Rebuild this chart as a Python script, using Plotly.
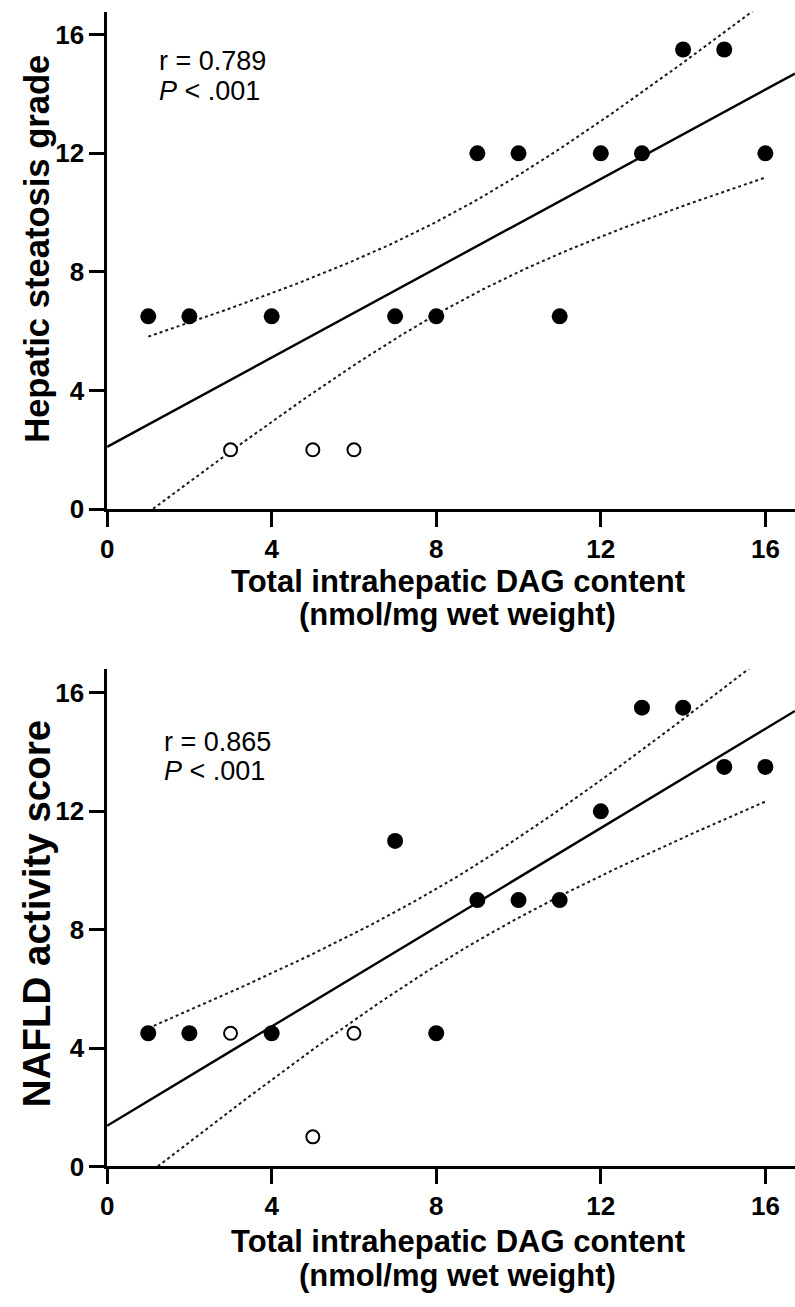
import numpy as np
import plotly.graph_objects as go

# ---------------- data ----------------
dag = [1, 2, 3, 4, 5, 6, 7, 8, 9, 10, 11, 12, 13, 14, 15, 16]
steatosis = [6.5, 6.5, 2, 6.5, 2, 2, 6.5, 6.5, 12, 12, 6.5, 12, 12, 15.5, 15.5, 12]
nas = [4.5, 4.5, 4.5, 4.5, 1, 4.5, 11, 4.5, 9, 9, 9, 12, 15.5, 15.5, 13.5, 13.5]
open_group = [False, False, True, False, True, True, False, False,
              False, False, False, False, False, False, False, False]
tick_vals = [0, 4, 8, 12, 16]
tick_text = ["0", "4", "8", "12", "16"]
r_labels = ["r = 0.789", "r = 0.865"]
p_label = "<i>P</i> < .001"
x_title_1 = "Total intrahepatic DAG content"
x_title_2 = "(nmol/mg wet weight)"
y_titles = ["Hepatic steatosis grade", "NAFLD activity score"]

T_CRIT = 2.1448  # t(0.975, df=14)

W, H = 795, 1307
FONT = "Liberation Sans, Arial, Helvetica, sans-serif"

X_MAX = 16.72
Y_MAX = [16.77, 16.8]


def px_x(p):
    return p / W


def px_y(p):
    return 1 - p / H


fig = go.Figure()


def add_panel(y, row):
    x = np.array(dag, dtype=float)
    yv = np.array(y, dtype=float)
    n = len(x)
    slope, intercept = np.polyfit(x, yv, 1)
    resid = yv - (slope * x + intercept)
    s = np.sqrt(np.sum(resid ** 2) / (n - 2))
    sxx = np.sum((x - x.mean()) ** 2)
    xs_fit = np.linspace(0, X_MAX, 50)
    xs_ci = np.linspace(x.min(), x.max(), 200)
    yhat = slope * xs_ci + intercept
    se = s * np.sqrt(1.0 / n + (xs_ci - x.mean()) ** 2 / sxx)
    xa = "x" if row == 1 else "x2"
    ya = "y" if row == 1 else "y2"
    dash = dict(color="#1a1a1a", width=2, dash="3px,3px")
    fig.add_trace(go.Scatter(x=xs_ci, y=yhat + T_CRIT * se, mode="lines",
                             line=dash, xaxis=xa, yaxis=ya, showlegend=False))
    fig.add_trace(go.Scatter(x=xs_ci, y=yhat - T_CRIT * se, mode="lines",
                             line=dash, xaxis=xa, yaxis=ya, showlegend=False))
    fig.add_trace(go.Scatter(x=xs_fit, y=slope * xs_fit + intercept, mode="lines",
                             line=dict(color="black", width=2.4),
                             xaxis=xa, yaxis=ya, showlegend=False))
    xf = [a for a, o in zip(dag, open_group) if not o]
    yf = [b for b, o in zip(y, open_group) if not o]
    xo = [a for a, o in zip(dag, open_group) if o]
    yo = [b for b, o in zip(y, open_group) if o]
    fig.add_trace(go.Scatter(x=xf, y=yf, mode="markers",
                             marker=dict(color="black", size=16, line=dict(width=0)),
                             xaxis=xa, yaxis=ya, showlegend=False))
    fig.add_trace(go.Scatter(x=xo, y=yo, mode="markers",
                             marker=dict(color="white", size=13,
                                         line=dict(color="black", width=2)),
                             xaxis=xa, yaxis=ya, showlegend=False))


add_panel(steatosis, 1)
add_panel(nas, 2)

axis_common = dict(showline=True, linewidth=2.5, linecolor="black", mirror=False,
                   ticks="outside", ticklen=15, tickwidth=2.5, tickcolor="black",
                   tickvals=tick_vals, ticktext=tick_text, showgrid=False,
                   zeroline=False,
                   tickfont=dict(family=FONT, size=26, color="black", weight="bold"))

x_dom = [px_x(101), 1.0]
fig.update_layout(
    width=W, height=H, margin=dict(l=0, r=0, t=0, b=0),
    paper_bgcolor="white", plot_bgcolor="white",
    xaxis=dict(domain=x_dom, range=[0, X_MAX], anchor="y", **axis_common),
    yaxis=dict(domain=[px_y(515), px_y(12)], range=[0, Y_MAX[0]], anchor="x",
               **axis_common),
    xaxis2=dict(domain=x_dom, range=[0, X_MAX], anchor="y2", **axis_common),
    yaxis2=dict(domain=[px_y(1180), px_y(677)], range=[0, Y_MAX[1]], anchor="x2",
                **axis_common),
)

ann = []
# correlation text
for (ry, py, left), rl in zip([(62, 92, 151), (751, 780, 156)], r_labels):
    ann.append(dict(x=px_x(left), y=px_y(ry), xref="paper", yref="paper",
                    text=rl, showarrow=False, xanchor="left", yanchor="middle",
                    font=dict(family=FONT, size=27, color="black")))
    ann.append(dict(x=px_x(left), y=px_y(py), xref="paper", yref="paper",
                    text=p_label, showarrow=False, xanchor="left", yanchor="middle",
                    font=dict(family=FONT, size=27, color="black")))

# x titles
for l1, l2 in [(588, 622), (1256, 1290)]:
    ann.append(dict(x=px_x(455), y=px_y(l1), xref="paper", yref="paper",
                    text=x_title_1, showarrow=False, xanchor="center", yanchor="middle",
                    font=dict(family=FONT, size=31, color="black", weight="bold")))
    ann.append(dict(x=px_x(455), y=px_y(l2), xref="paper", yref="paper",
                    text=x_title_2, showarrow=False, xanchor="center", yanchor="middle",
                    font=dict(family=FONT, size=31, color="black", weight="bold")))

# y titles
for yt, yc, fs in zip(y_titles, [252, 924], [34.6, 38.5]):
    ann.append(dict(x=px_x(30), y=px_y(yc), xref="paper", yref="paper",
                    text=yt, showarrow=False, textangle=-90,
                    xanchor="center", yanchor="middle",
                    font=dict(family=FONT, size=fs, color="black", weight="bold")))

fig.update_layout(annotations=ann)
fig.write_html("out.html",
               config={"displayModeBar": False},
               post_script="document.body.style.margin='0px';"
                           "document.body.style.overflow='hidden';")
